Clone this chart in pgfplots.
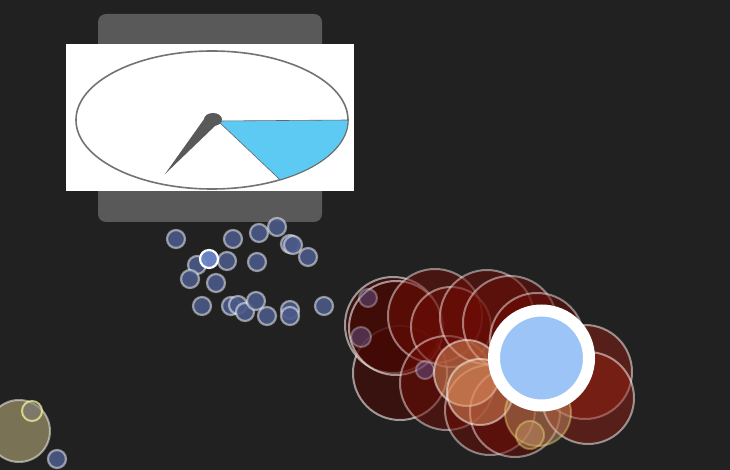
\documentclass[border=0pt]{standalone}
\usepackage{pgfplots}
\usepackage{pgfplotstable}
\pgfplotsset{compat=1.18}

\definecolor{bgcol}{HTML}{212121}
\definecolor{bluedot}{HTML}{4A5987}
\definecolor{bluehi}{HTML}{6E88CC}
\definecolor{purpdot}{HTML}{6A5A9A}
\definecolor{redmid}{HTML}{6E0C05}
\definecolor{reddark}{HTML}{460804}
\definecolor{redlite}{HTML}{9A1E10}
\definecolor{orange1}{HTML}{E0905E}
\definecolor{tan1}{HTML}{C89A6A}
\definecolor{khaki}{HTML}{7E7757}
\definecolor{skyhi}{HTML}{9DC4F7}
\definecolor{gaugeblue}{HTML}{5CCAF2}

% bubbles: x, y in pixels from top-left, r = radius in pixels
\pgfplotstableread{
x y r
176 239 9
233 239 9
259 233 9
277 227 9
290 244 9
293 245 9
308 257 9
197 265 9
227 261 9
257 262 9
190 279 9
216 283 9
202 306 9
231 306 9
238 305 9
245 312 9
256 301 9
267 316 9
290 310 9
290 316 9
324 306 9
57 459 9
}\bluedots

\pgfplotstableread{
x y r
209 259 9
}\bluehilite

\pgfplotstableread{
x y r
400 373 47
393 325 48
396 328 47
}\reddarkdots

\pgfplotstableread{
x y r
435 316 47
451 327 40
447 383 47
487 317 47
510 323 47
537 340 47
490 410 45
515 412 45
}\redmiddots

\pgfplotstableread{
x y r
585 372 47
588 398 46
}\redlitedots

\pgfplotstableread{
x y r
467 373 33
480 392 33
}\orangedots

\pgfplotstableread{
x y r
538 413 33
530 435 14
}\tandots

\pgfplotstableread{
x y r
368 298 9
361 337 10
425 370 9
}\purpdots

\pgfplotstableread{
x y r
19 431 31
}\khakidots

\pgfplotstableread{
x y r
32 411 10
}\khakismall

\pgfplotstableread{
x y r
541.5 358 47.5
}\hilite

\pgfplotsset{
  bubble/.style={only marks, scatter, mark=*,
    scatter/use mapped color={#1},
    visualization depends on={\thisrow{r}\as\rr},
    scatter/@pre marker code/.append style={/tikz/mark size=\rr pt}},
}

\begin{document}
\begin{tikzpicture}
\useasboundingbox (0,0) rectangle (730pt,470pt);
\fill[bgcol] (0,0) rectangle (730pt,470pt);
\begin{axis}[
    scale only axis,
    width=730pt, height=470pt,
    xmin=0, xmax=730, ymin=0, ymax=470,
    y dir=reverse,
    enlargelimits=false,
    hide axis,
    clip=true,
]
\addplot[bubble={fill=bluedot, fill opacity=0.9, draw=white, draw opacity=0.5, line width=2.2pt}]
    table[x=x, y=y] {\bluedots};
\addplot[bubble={fill=bluehi, fill opacity=0.95, draw=white, line width=2.2pt}]
    table[x=x, y=y] {\bluehilite};
\addplot[bubble={fill=khaki, fill opacity=0.95, draw=white, draw opacity=0.5, line width=2pt}]
    table[x=x, y=y] {\khakidots};
\addplot[bubble={fill=gray, fill opacity=0.5, draw=yellow!40!white, draw opacity=0.7, line width=2pt}]
    table[x=x, y=y] {\khakismall};
\addplot[bubble={fill=reddark, fill opacity=0.6, draw=white, draw opacity=0.55, line width=2pt}]
    table[x=x, y=y] {\reddarkdots};
\addplot[bubble={fill=redmid, fill opacity=0.5, draw=white, draw opacity=0.45, line width=2pt}]
    table[x=x, y=y] {\redmiddots};
\addplot[bubble={fill=redlite, fill opacity=0.45, draw=white, draw opacity=0.5, line width=2pt}]
    table[x=x, y=y] {\redlitedots};
\addplot[bubble={fill=purpdot, fill opacity=0.45, draw=white, draw opacity=0.3, line width=2pt}]
    table[x=x, y=y] {\purpdots};
\addplot[bubble={fill=orange1, fill opacity=0.5, draw=white, draw opacity=0.5, line width=2pt}]
    table[x=x, y=y] {\orangedots};
\addplot[bubble={fill=tan1, fill opacity=0.45, draw=yellow!50!white, draw opacity=0.35, line width=2pt}]
    table[x=x, y=y] {\tandots};
\addplot[bubble={fill=skyhi, draw=white, line width=12pt}]
    table[x=x, y=y] {\hilite};

% tooltip image (gauge)
\fill[black!65, rounded corners=8pt] (98,14) rectangle (322,222);
\fill[white] (66,44) rectangle (354,191);
\draw[black!55, line width=1.6pt] (212,120) ellipse [x radius=136pt, y radius=69pt];
\filldraw[fill=gaugeblue, draw=black!60, line width=0.6pt]
    (218,121) -- (348,120) arc[start angle=0, end angle=-60, x radius=136pt, y radius=69pt] -- cycle;
\fill[black!65] (165,174) -- (207,115) -- (217,124) -- cycle;
\fill[black!65] (213,119.5) ellipse [x radius=9pt, y radius=6.5pt];
\end{axis}
\end{tikzpicture}
\end{document}
